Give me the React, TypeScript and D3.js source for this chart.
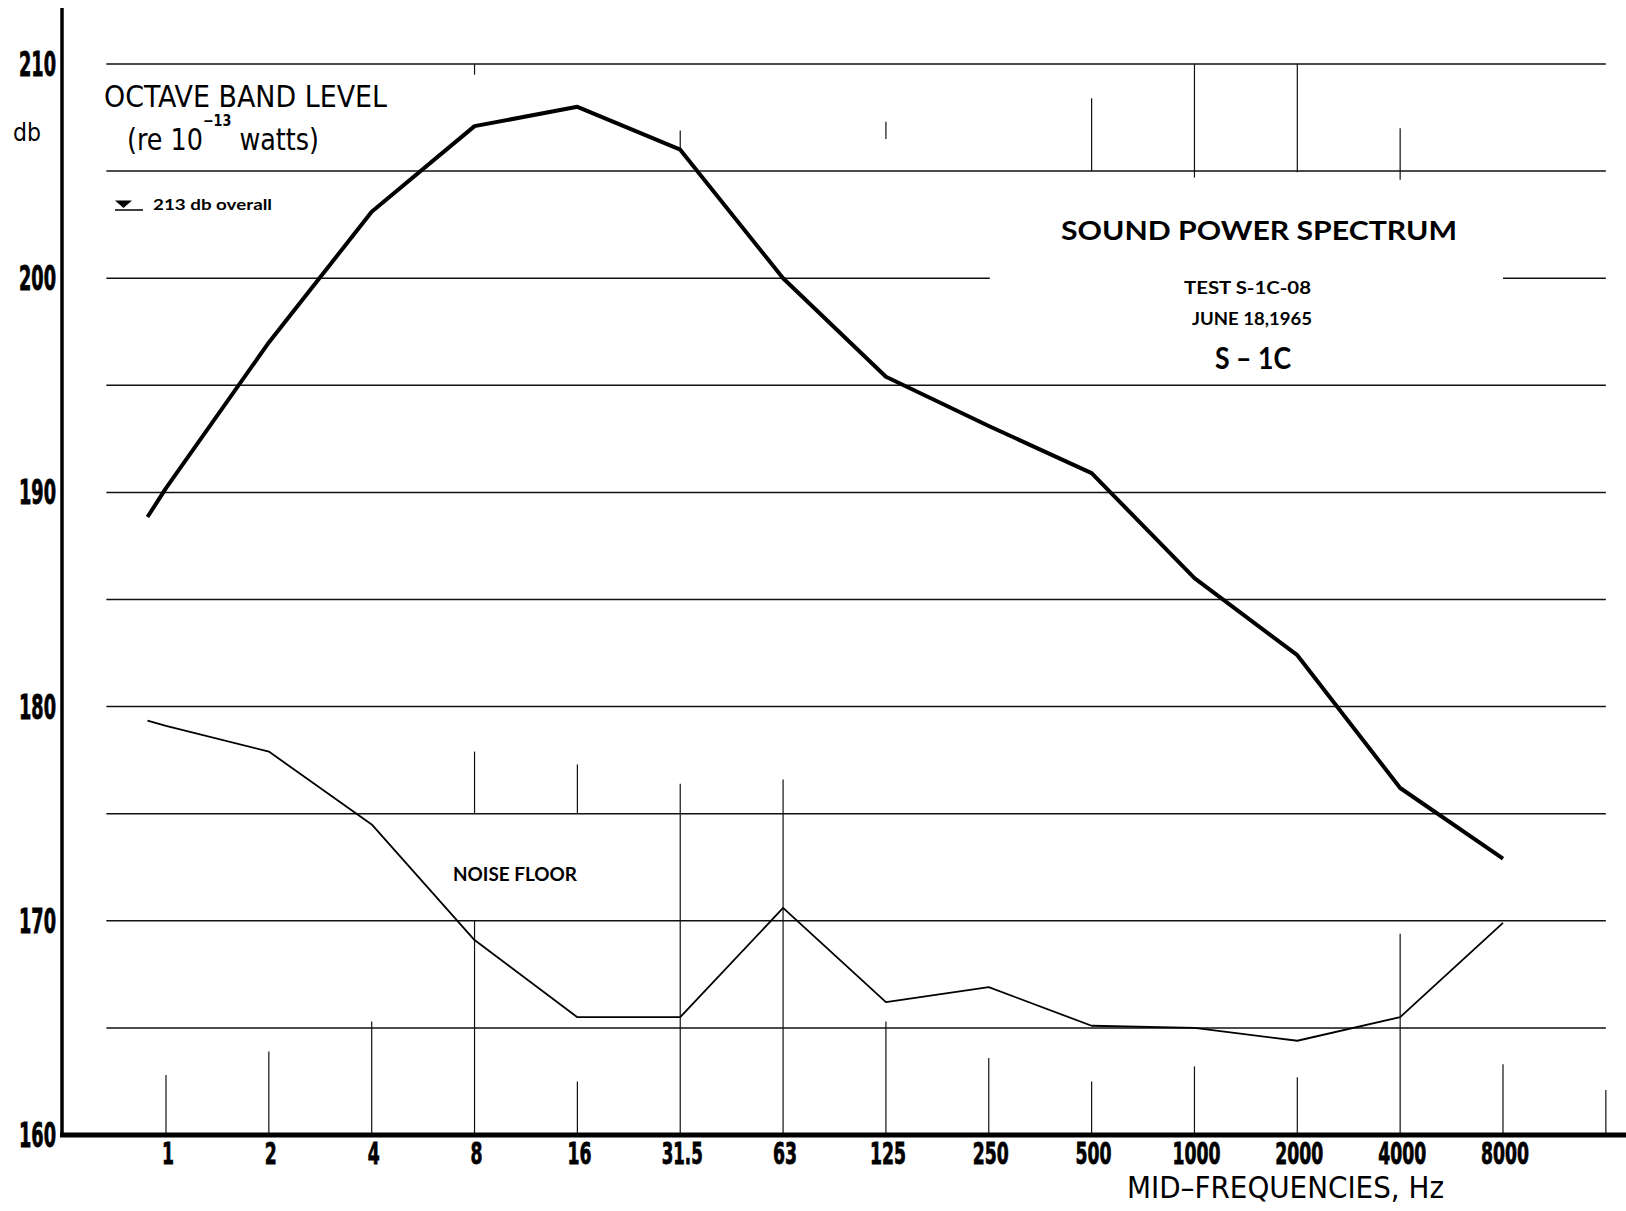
import React from 'react';
import * as d3 from 'd3';

// octave band mid-frequencies, Hz
const frequencies = ['1', '2', '4', '8', '16', '31.5', '63', '125', '250', '500', '1000', '2000', '4000', '8000'];

// octave band sound power level, db re 10^-13 watts
const soundPowerDb = [190.2, 197.0, 203.1, 207.1, 208.0, 206.0, 200.0, 195.4, 193.1, 190.9, 186.0, 182.4, 176.2, 172.9];
const noiseFloorDb = [179.1, 177.9, 174.5, 169.1, 165.5, 165.5, 170.6, 166.2, 166.9, 165.1, 165.0, 164.4, 165.5, 169.9];

// both traces begin a little below the 1 Hz band
const startBand = -0.18;
const soundPowerStartDb = 188.85;
const noiseFloorStartDb = 179.35;

const dbLabels = [160, 170, 180, 190, 200, 210];
const dbGrid = [165, 170, 175, 180, 185, 190, 195, 200, 205, 210];

// vertical marks on the original sheet: [band index, from db, to db]
const bandMarks = [
  [0, 162.8, 160],
  [1, 163.9, 160],
  [2, 165.3, 160],
  [3, 177.9, 175],
  [3, 170, 160],
  [4, 177.3, 175],
  [4, 162.5, 160],
  [5, 176.4, 160],
  [6, 176.6, 160],
  [7, 165.3, 160],
  [8, 163.6, 160],
  [9, 162.5, 160],
  [10, 163.2, 160],
  [11, 162.7, 160],
  [12, 169.4, 160],
  [13, 163.3, 160],
  [14, 162.1, 160],
  [3, 210, 209.5],
  [5, 206.9, 205.9],
  [7, 207.3, 206.5],
  [9, 208.4, 205],
  [10, 210, 204.7],
  [11, 210, 204.95],
  [12, 207.0, 204.6],
];

const W = 1626;
const H = 1211;

const condensed = '"Liberation Sans Narrow", "DejaVu Sans Condensed", "Liberation Sans", Arial, sans-serif';
const geometric = 'Lato, "Noto Sans", "DejaVu Sans", sans-serif';

const App = () => {
  const x = d3.scaleLinear().domain([0, 13]).range([166, 1503]);
  const y = d3.scaleLinear().domain([160, 210]).range([1135, 64]);

  const line = d3
    .line<[number, number]>()
    .x((d) => x(d[0]))
    .y((d) => y(d[1]));

  const soundPts: [number, number][] = [[startBand, soundPowerStartDb]].concat(
    soundPowerDb.map((v, i) => [i, v])
  ) as [number, number][];
  const noisePts: [number, number][] = [[startBand, noiseFloorStartDb]].concat(
    noiseFloorDb.map((v, i) => [i, v])
  ) as [number, number][];

  const gridLeft = x(-0.58);
  const gridRight = x(14);

  // width of the bold condensed numerals
  const numWidth = (s: string) =>
    s.split('').reduce((acc, c) => acc + (c === '.' ? 5 : 12), 0);

  return (
    <svg
      width={W}
      height={H}
      style={{ position: 'absolute', left: 0, top: 0, background: '#fff' }}
    >
      <rect x={0} y={0} width={W} height={H} fill="#fff" />

      {/* horizontal grid */}
      <g stroke="#111" strokeWidth={1.5}>
        {dbGrid.map((d) =>
          d === 200 ? (
            <g key={d}>
              <line x1={gridLeft} x2={x(8.01)} y1={y(d)} y2={y(d)} />
              <line x1={x(13)} x2={gridRight} y1={y(d)} y2={y(d)} />
            </g>
          ) : (
            <line key={d} x1={gridLeft} x2={gridRight} y1={y(d)} y2={y(d)} />
          )
        )}
      </g>

      {/* band marks */}
      <g stroke="#111" strokeWidth={1.2}>
        {bandMarks.map((m, i) => (
          <line key={i} x1={x(m[0])} x2={x(m[0])} y1={y(m[1])} y2={y(m[2])} />
        ))}
      </g>

      {/* axes */}
      <line x1={62} x2={62} y1={8} y2={y(160) + 2} stroke="#000" strokeWidth={3.5} />
      <line x1={60} x2={W} y1={y(160)} y2={y(160)} stroke="#000" strokeWidth={5} />

      {/* y labels */}
      <g fontFamily={condensed} fontWeight="bold" fontSize={33} textAnchor="end" stroke="#000" strokeWidth={0.8}>
        {dbLabels.map((d) => (
          <text
            key={d}
            x={56}
            y={y(d) + 12}
            textLength={37}
            lengthAdjust="spacingAndGlyphs"
          >
            {d}
          </text>
        ))}
      </g>
      <text x={13} y={141} fontFamily={condensed} fontSize={25} textLength={28} lengthAdjust="spacingAndGlyphs">
        db
      </text>

      {/* x labels */}
      <g fontFamily={condensed} fontWeight="bold" fontSize={31} textAnchor="middle" stroke="#000" strokeWidth={0.8}>
        {frequencies.map((f, i) => (
          <text
            key={f}
            x={x(i) + 2}
            y={1164}
            textLength={numWidth(f)}
            lengthAdjust="spacingAndGlyphs"
          >
            {f}
          </text>
        ))}
      </g>
      <text
        x={1127}
        y={1198}
        fontFamily={condensed}
        fontSize={31}
        textLength={317}
        lengthAdjust="spacingAndGlyphs"
      >
        MID–FREQUENCIES,  Hz
      </text>

      {/* traces */}
      <path d={line(soundPts) || ''} fill="none" stroke="#000" strokeWidth={4} strokeLinejoin="round" />
      <path d={line(noisePts) || ''} fill="none" stroke="#000" strokeWidth={1.8} strokeLinejoin="round" />

      {/* annotations */}
      <g fontFamily={condensed}>
        <text x={104} y={107} fontSize={30} textLength={283} lengthAdjust="spacingAndGlyphs">
          OCTAVE  BAND  LEVEL
        </text>
        <text x={127} y={150} fontSize={30} textLength={192} lengthAdjust="spacingAndGlyphs">
          (re  10
          <tspan dy={-24} fontSize={15} fontWeight="bold">−13</tspan>
          <tspan dy={24}> watts)</tspan>
        </text>
      </g>

      <path d="M115,200.5 L132,200.5 L123.5,208 Z" fill="#000" />
      <line x1={115} x2={143} y1={210} y2={210} stroke="#000" strokeWidth={1.5} />

      <g fontFamily={geometric} fontWeight="bold" fill="#000">
        <text x={153} y={209.5} fontSize={15} textLength={119} lengthAdjust="spacingAndGlyphs">
          213  db overall
        </text>
        <text x={1061} y={240} fontSize={27} textLength={396} lengthAdjust="spacingAndGlyphs">
          SOUND  POWER  SPECTRUM
        </text>
        <text x={1184} y={294} fontSize={16.5} textLength={127} lengthAdjust="spacingAndGlyphs">
          TEST  S-1C-08
        </text>
        <text x={1192} y={325} fontSize={16.5} textLength={120} lengthAdjust="spacingAndGlyphs">
          JUNE 18,1965
        </text>
        <text x={1215} y={369} fontSize={31} textLength={76} lengthAdjust="spacingAndGlyphs">
          S – 1C
        </text>
        <text x={453} y={881} fontSize={18.5} textLength={124} lengthAdjust="spacingAndGlyphs">
          NOISE  FLOOR
        </text>
      </g>
    </svg>
  );
};

export default App;
